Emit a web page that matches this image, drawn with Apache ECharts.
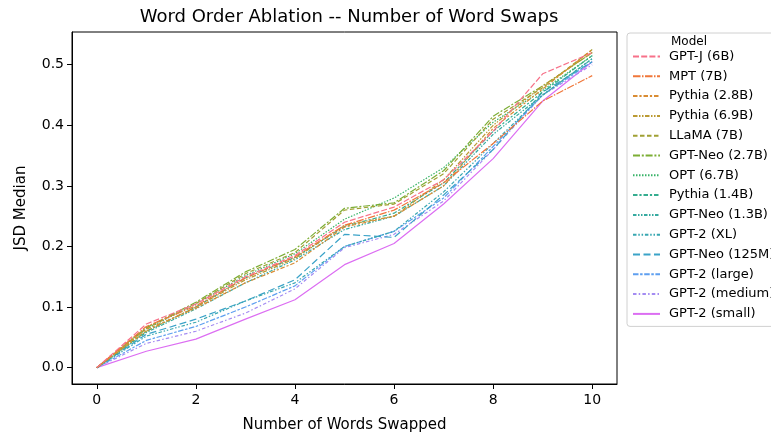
<!DOCTYPE html>
<html>
<head>
<meta charset="utf-8">
<script src="https://cdn.jsdelivr.net/npm/echarts@6/dist/echarts.min.js"></script>
<style>
  html, body { margin: 0; padding: 0; background: #fff; }
  #chart { width: 771px; height: 438px; }
</style>
</head>
<body>
<div id="chart"></div>
<script>
// words swapped (x)
const wordsSwapped = [0, 1, 2, 3, 4, 5, 6, 7, 8, 9, 10];
const xTicks = [0, 2, 4, 6, 8, 10];
const yTicks = [0, 0.1, 0.2, 0.3, 0.4, 0.5];

const models = [
  'GPT-J (6B)', 'MPT (7B)', 'Pythia (2.8B)', 'Pythia (6.9B)', 'LLaMA (7B)',
  'GPT-Neo (2.7B)', 'OPT (6.7B)', 'Pythia (1.4B)', 'GPT-Neo (1.3B)', 'GPT-2 (XL)',
  'GPT-Neo (125M)', 'GPT-2 (large)', 'GPT-2 (medium)', 'GPT-2 (small)'
];

// JSD median per model
const gptJ6b      = [0, 0.072, 0.105, 0.150, 0.185, 0.240, 0.265, 0.310, 0.390, 0.485, 0.520];
const mpt7b       = [0, 0.068, 0.102, 0.148, 0.183, 0.235, 0.260, 0.305, 0.370, 0.440, 0.482];
const pythia2_8b  = [0, 0.063, 0.098, 0.140, 0.173, 0.232, 0.250, 0.300, 0.395, 0.460, 0.525];
const pythia6_9b  = [0, 0.060, 0.100, 0.145, 0.180, 0.235, 0.250, 0.310, 0.400, 0.465, 0.520];
const llama7b     = [0, 0.065, 0.106, 0.155, 0.190, 0.260, 0.270, 0.320, 0.410, 0.462, 0.525];
const gptNeo2_7b  = [0, 0.066, 0.108, 0.158, 0.195, 0.263, 0.272, 0.325, 0.415, 0.465, 0.520];
const opt6_7b     = [0, 0.064, 0.105, 0.152, 0.188, 0.245, 0.280, 0.330, 0.405, 0.458, 0.515];
const pythia1_4b  = [0, 0.060, 0.100, 0.148, 0.182, 0.233, 0.255, 0.305, 0.390, 0.455, 0.515];
const gptNeo1_3b  = [0, 0.058, 0.097, 0.140, 0.178, 0.228, 0.250, 0.300, 0.385, 0.450, 0.510];
const gpt2Xl      = [0, 0.052, 0.075, 0.110, 0.140, 0.200, 0.225, 0.290, 0.370, 0.450, 0.510];
const gptNeo125m  = [0, 0.055, 0.080, 0.110, 0.145, 0.220, 0.215, 0.285, 0.360, 0.455, 0.505];
const gpt2Large   = [0, 0.045, 0.068, 0.100, 0.135, 0.200, 0.225, 0.280, 0.365, 0.450, 0.505];
const gpt2Medium  = [0, 0.040, 0.060, 0.090, 0.130, 0.198, 0.220, 0.275, 0.360, 0.450, 0.500];
const gpt2Small   = [0, 0.027, 0.047, 0.080, 0.112, 0.170, 0.205, 0.270, 0.345, 0.440, 0.505];

const seriesValues = [
  gptJ6b, mpt7b, pythia2_8b, pythia6_9b, llama7b, gptNeo2_7b, opt6_7b,
  pythia1_4b, gptNeo1_3b, gpt2Xl, gptNeo125m, gpt2Large, gpt2Medium, gpt2Small
];

const colors = [
  '#f77189', '#f0773a', '#d98c33', '#bb9a33', '#a0a033', '#7cae35', '#38b368',
  '#35ad8f', '#36aaa0', '#38a7b1', '#3ba3c8', '#5e9ff0', '#a48cf2', '#dc6ef2'
];

const dashes = [
  [6, 2.2], [7.5, 1.5, 1.5, 1.5], [4.5, 1.9, 2.2, 1.9], [4.5, 1.5, 1.5, 1.5, 1.5, 1.5],
  [4.5, 2.5], [7, 1.8, 2, 1.8], [1.5, 1.5], [4.5, 1.9, 2.2, 1.9],
  [3.5, 1.5, 1.5, 1.5, 1.5, 1.5], [3.5, 1.8, 1.5, 1.8, 1.5, 1.8], [7, 3.5],
  [5.5, 1.6, 2.5, 1.6], [3.5, 2.2, 1.5, 2.2], null
];

const font = 'DejaVu Sans';
const chart = echarts.init(document.getElementById('chart'), null, { renderer: 'canvas' });

chart.setOption({
  animation: false,
  backgroundColor: '#fff',
  title: [
    {
      text: 'Word Order Ablation -- Number of Word Swaps',
      left: 344, top: 3, textAlign: 'center',
      textStyle: { fontFamily: font, fontSize: 18, fontWeight: 'normal', color: '#000' }
    },
    {
      text: 'Model',
      left: 684, top: 31, textAlign: 'center',
      textStyle: { fontFamily: font, fontSize: 12, fontWeight: 'normal', color: '#000' }
    }
  ],
  legend: {
    orient: 'vertical',
    left: 627, top: 33,
    data: models,
    padding: [17, 40, 6, 5],
    itemWidth: 27, itemHeight: 14, itemGap: 6.8,
    borderColor: '#d0d0d0', borderWidth: 1, borderRadius: 3,
    backgroundColor: '#fff',
    itemStyle: { opacity: 0 },
    lineStyle: { width: 2 },
    textStyle: { fontFamily: font, fontSize: 13, color: '#000', padding: [0, 0, 0, 4] }
  },
  grid: {
    left: 72, right: 154, top: 32, bottom: 52,
    show: true, borderColor: '#000', borderWidth: 1, backgroundColor: 'transparent'
  },
  xAxis: {
    type: 'value', min: -0.5, max: 10.5,
    name: 'Number of Words Swapped', nameLocation: 'middle', nameGap: 34,
    nameTextStyle: { fontFamily: font, fontSize: 15, color: '#000' },
    axisLine: { onZero: false, lineStyle: { color: '#000' } },
    axisTick: { show: true, length: 5, lineStyle: { color: '#000' }, customValues: xTicks },
    axisLabel: { fontFamily: font, fontSize: 14, color: '#000', margin: 9, customValues: xTicks },
    splitLine: { show: false }
  },
  yAxis: {
    type: 'value', min: -0.027, max: 0.554,
    name: 'JSD Median', nameLocation: 'middle', nameGap: 43,
    nameTextStyle: { fontFamily: font, fontSize: 15, color: '#000' },
    axisLine: { show: true, onZero: false, lineStyle: { color: '#000' } },
    axisTick: { show: true, length: 5, lineStyle: { color: '#000' }, customValues: yTicks },
    axisLabel: {
      fontFamily: font, fontSize: 14, color: '#000', margin: 8, customValues: yTicks,
      formatter: v => v.toFixed(1)
    },
    splitLine: { show: false }
  },
  series: models.map((name, i) => ({
    name,
    type: 'line',
    data: wordsSwapped.map((x, j) => [x, seriesValues[i][j]]),
    symbol: 'none',
    z: 20 - i,
    itemStyle: { color: colors[i] },
    lineStyle: { color: colors[i], width: 1.2, type: dashes[i] || 'solid' }
  }))
});
</script>
</body>
</html>
